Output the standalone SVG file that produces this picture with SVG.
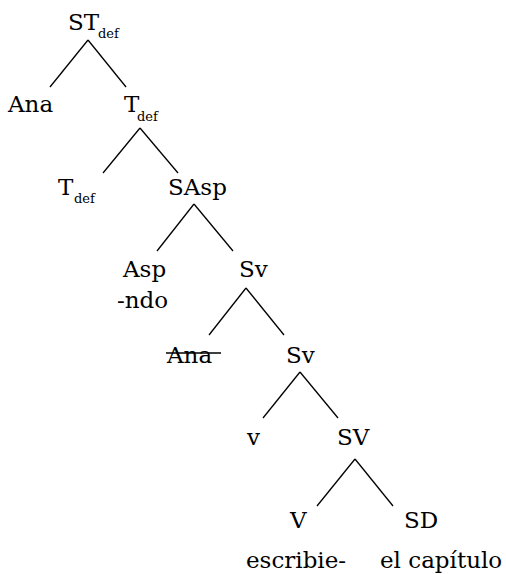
<svg xmlns="http://www.w3.org/2000/svg" width="506" height="574" viewBox="0 0 506 574">
<style>
  text { font-family: "DejaVu Serif", "Liberation Serif", serif; font-size: 23px; fill: #000; }
  .sub { font-size: 13px; }
  .edge { stroke: #000; stroke-width: 1.3; fill: none; }
</style>
<rect width="506" height="574" fill="#fff"/>
<g id="connectors">
  <line class="edge" x1="88" y1="40" x2="50" y2="87"/>
  <line class="edge" x1="88" y1="40" x2="126" y2="87"/>
  <line class="edge" x1="140" y1="128" x2="103" y2="173"/>
  <line class="edge" x1="140" y1="128" x2="178" y2="173"/>
  <line class="edge" x1="194" y1="204" x2="157" y2="251"/>
  <line class="edge" x1="194" y1="204" x2="233" y2="251"/>
  <line class="edge" x1="246" y1="288" x2="209" y2="335"/>
  <line class="edge" x1="246" y1="288" x2="284" y2="335"/>
  <line class="edge" x1="300" y1="372" x2="263" y2="418"/>
  <line class="edge" x1="300" y1="372" x2="338" y2="418"/>
  <line class="edge" x1="355" y1="459" x2="317" y2="506"/>
  <line class="edge" x1="355" y1="459" x2="393" y2="506"/>
</g>
<g id="n-STdef"><text x="68" y="30">ST</text><text class="sub" x="98" y="38">def</text></g>
<g id="n-Ana"><text x="8" y="112">Ana</text></g>
<g id="n-Tdef"><text x="124" y="112">T</text><text class="sub" x="137" y="121">def</text></g>
<g id="n-Tdef2"><text x="58" y="195">T</text><text class="sub" x="74" y="203">def</text></g>
<g id="n-SAsp"><text x="168" y="195">SAsp</text></g>
<g id="n-Asp"><text x="123" y="277">Asp</text><text x="117" y="308">-ndo</text></g>
<g id="n-Sv1"><text x="239" y="277">Sv</text></g>
<g id="n-Ana2"><text x="167" y="363">Ana</text><line x1="166" y1="353" x2="221" y2="353" stroke="#000" stroke-width="1.3"/></g>
<g id="n-Sv2"><text x="286" y="363">Sv</text></g>
<g id="n-v"><text x="247" y="445">v</text></g>
<g id="n-SV"><text x="337" y="445">SV</text></g>
<g id="n-V"><text x="290" y="528">V</text><text x="246" y="568">escribie-</text></g>
<g id="n-SD"><text x="404" y="528">SD</text><text x="380" y="568">el capítulo</text></g>
</svg>
